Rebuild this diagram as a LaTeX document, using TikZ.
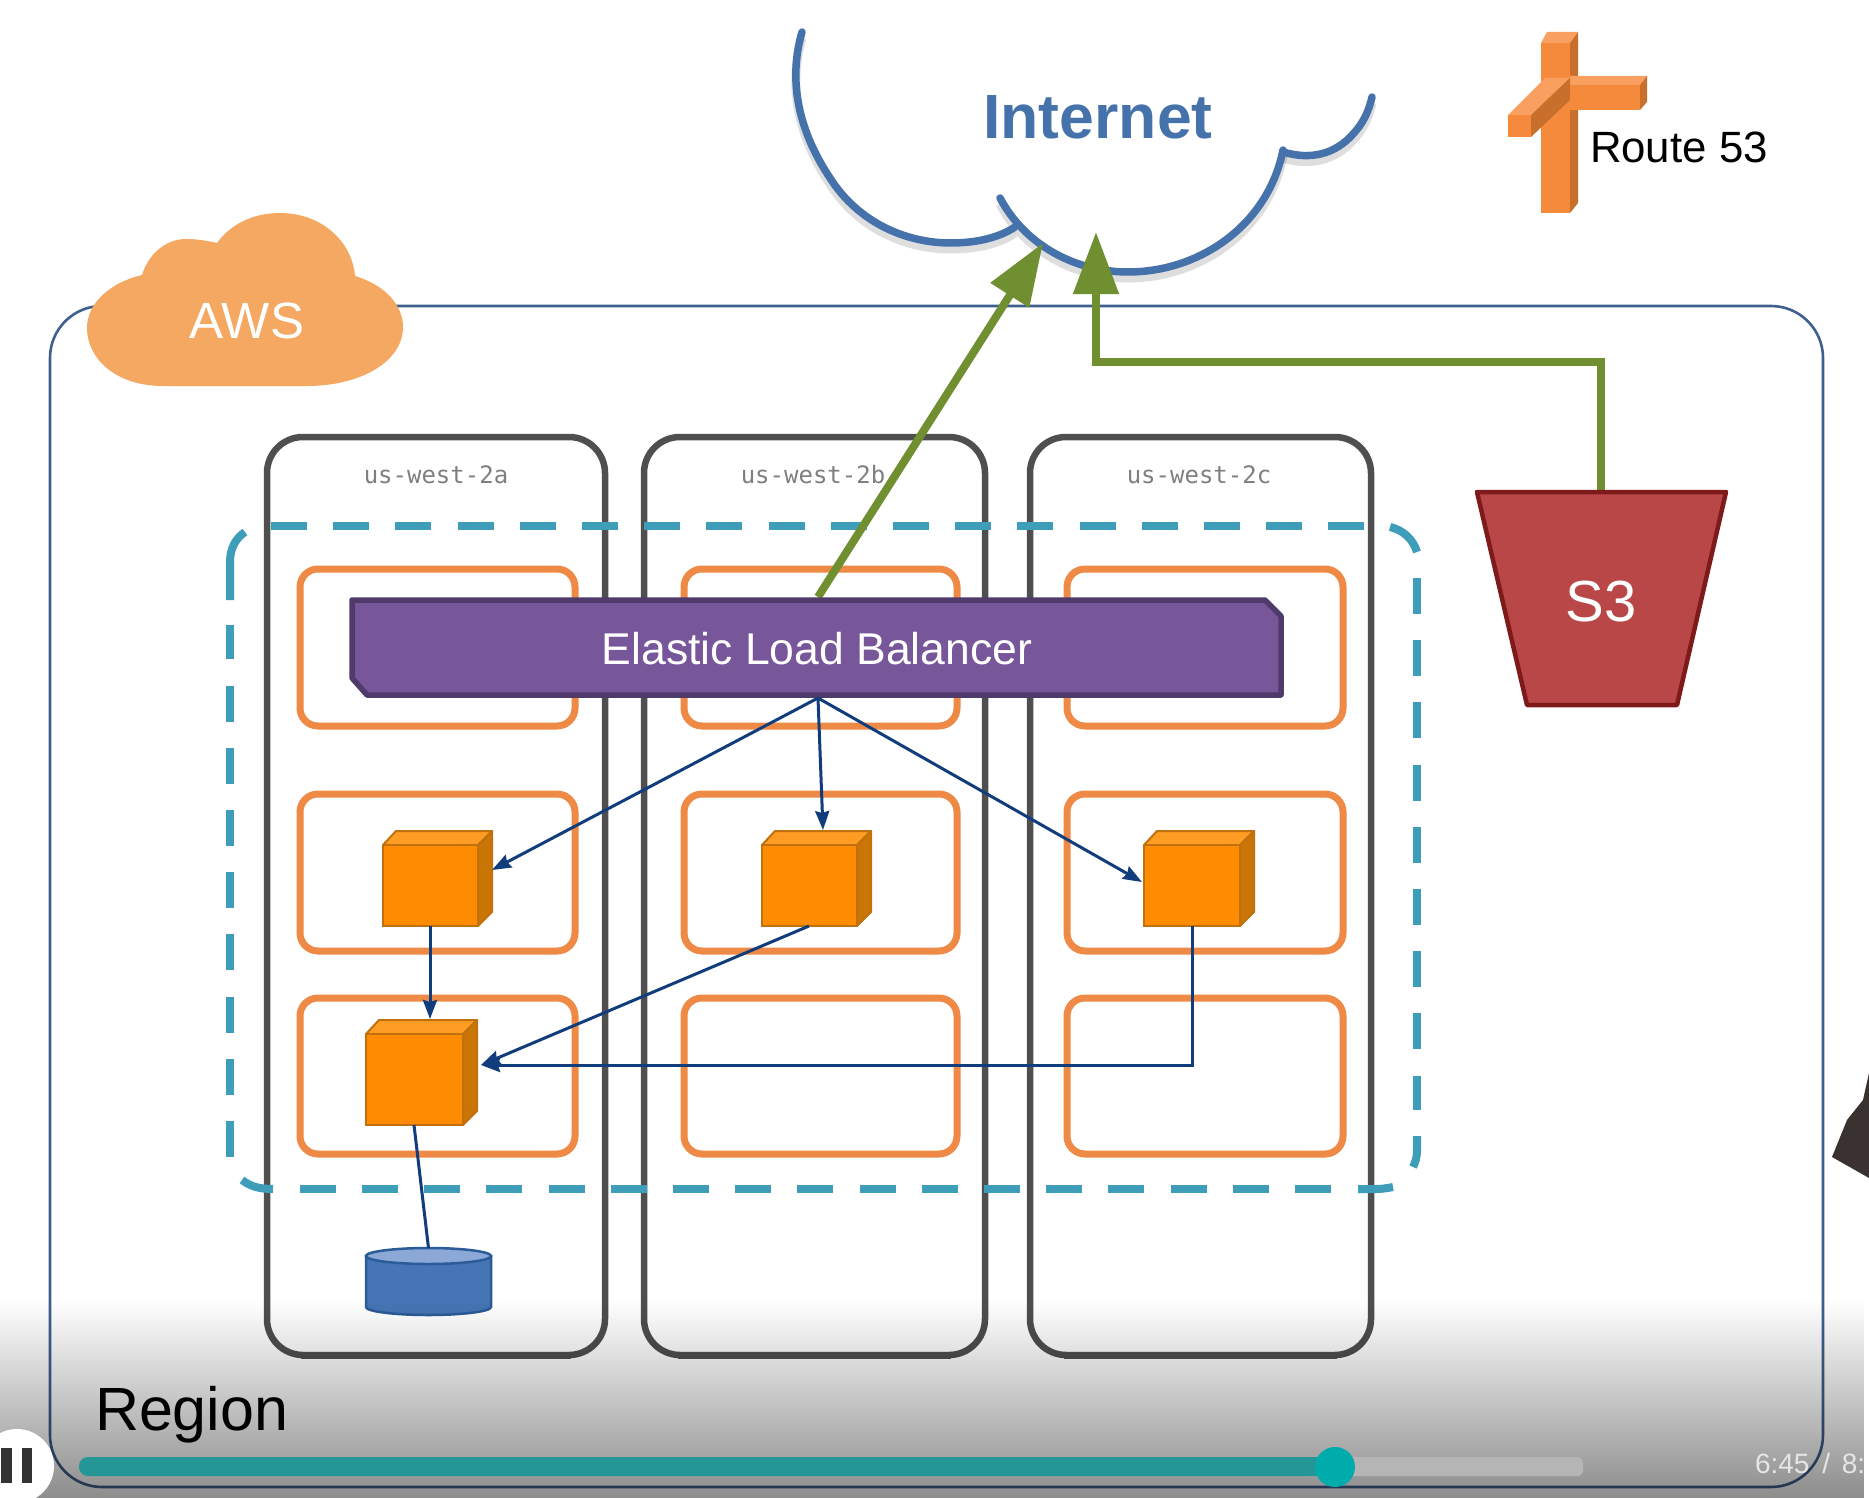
\documentclass[tikz,border=0pt]{standalone}
\usepackage{fontspec}
\setmainfont{Liberation Sans}
\setmonofont{DejaVu Sans Mono}
\usetikzlibrary{arrows.meta,fadings}
\definecolor{regionc}{HTML}{3F5F8F}
\definecolor{azc}{HTML}{4F4F4F}
\definecolor{subc}{HTML}{EE8A45}
\definecolor{tealc}{HTML}{3E9DB8}
\definecolor{netc}{HTML}{4672AC}
\definecolor{grnc}{HTML}{6F8F30}
\definecolor{navyc}{HTML}{123D7C}
\definecolor{cubef}{HTML}{FF8C00}
\definecolor{cubet}{HTML}{FF9C24}
\definecolor{cubes}{HTML}{C97606}
\definecolor{cubel}{HTML}{C0700C}
\definecolor{awsc}{HTML}{F4A862}
\definecolor{elbf}{HTML}{77569A}
\definecolor{elbl}{HTML}{4F3A6C}
\definecolor{s3f}{HTML}{B94747}
\definecolor{s3l}{HTML}{7F1A1A}
\definecolor{r53f}{HTML}{F58A3C}
\definecolor{r53t}{HTML}{F9A060}
\definecolor{r53s}{HTML}{C86F2C}
\definecolor{dbf}{HTML}{4675B5}
\definecolor{dbt}{HTML}{8BA8D6}
\definecolor{dbl}{HTML}{2B5C99}
\definecolor{azt}{HTML}{7F7F7F}
\definecolor{playc}{HTML}{259696}
\definecolor{knobc}{HTML}{00ABAB}
\definecolor{restc}{HTML}{B5B5B5}
\definecolor{pausec}{HTML}{333333}
\definecolor{timec}{HTML}{E5E5E5}
\definecolor{blobc}{HTML}{3A3230}
\tikzfading[name=vidfade,top color=transparent!100,bottom color=transparent!55]
\tikzset{
  x=1pt,y=-1pt,
  txt/.style={inner sep=0pt,outer sep=0pt,anchor=base},
  txtw/.style={inner sep=0pt,outer sep=0pt,anchor=base west},
  regionbox/.style={draw=regionc,line width=2.6pt,rounded corners=52pt},
  azbox/.style={draw=azc,line width=6.5pt,rounded corners=36pt},
  subbox/.style={draw=subc,line width=7pt,rounded corners=18pt},
  tealdash/.style={draw=tealc,line width=8pt,dash pattern=on 36pt off 26.2pt},
  tealarc/.style={draw=tealc,line width=8pt},
  netline/.style={draw=netc,line width=7.5pt,line cap=round},
  netshadow/.style={draw=black,opacity=.13,line width=9pt},
  grnarrow/.style={draw=grnc,line width=8pt,-{Triangle[length=62pt,width=44pt]}},
  flow/.style={draw=navyc,line width=3pt,-{Stealth[length=19pt,width=14pt,inset=2pt]}},
  link/.style={draw=navyc,line width=3pt},
  azlabel/.style={txt,text=azt,font=\ttfamily\fontsize{24}{24}\selectfont},
  ptnode/.style={inner sep=0pt,outer sep=0pt},
  cubeface/.style={draw=cubel,line width=2pt,line join=round}
}
\newcommand{\ecube}[5]{%
  \fill[cubet,cubeface] (#2,#3) -- ({#2+13},{#3-14}) -- ({#4+14},{#3-14}) -- (#4,#3) -- cycle;
  \fill[cubes,cubeface] (#4,#3) -- ({#4+14},{#3-14}) -- ({#4+14},{#5-14}) -- (#4,#5) -- cycle;
  \node[ptnode,fill=cubef,draw=cubel,line width=2pt,minimum width={(#4-#2)*1pt},minimum height={(#5-#3)*1pt},anchor=north west] (#1) at (#2,#3) {};
}
\newcommand{\netcurves}[1]{%
  \draw[#1] (802,32) .. controls (788,80) and (798,130) .. (830,178) .. controls (858,222) and (905,243) .. (951,243) .. controls (978,243) and (1000,237) .. (1015,227);
  \draw[#1] (1000,198) .. controls (1025,245) and (1075,272) .. (1128,272) .. controls (1200,272) and (1268,225) .. (1283,150);
  \draw[#1] (1283,152) .. controls (1310,160) and (1335,155) .. (1354,133) .. controls (1364,122) and (1369,110) .. (1372,97);
}
\begin{document}
\begin{tikzpicture}
\useasboundingbox (0,0) rectangle (1869,1498);
\fill[white] (0,0) rectangle (1869,1498);

% person at the right edge of the video frame
\fill[blobc] (1869,1073) -- (1863,1100) -- (1847,1120) -- (1832,1157) -- (1869,1178) -- cycle;

% region
\draw[regionbox] (50,306) rectangle (1823,1487);
\node[txtw,font=\fontsize{61}{61}\selectfont] (region) at (95,1430) {Region};

% AWS cloud
\fill[awsc] (142,275) .. controls (148,255) and (165,239) .. (186,239) .. controls (198,239) and (208,241) .. (217,243) .. controls (230,225) and (252,213) .. (280,213) .. controls (320,213) and (352,240) .. (355,276) .. controls (385,285) and (403,305) .. (403,327) .. controls (403,362) and (360,386) .. (307,386) -- (163,386) .. controls (115,386) and (87,358) .. (87,328) .. controls (87,302) and (112,282) .. (142,275) -- cycle;
\node[txt,text=white,font=\fontsize{51}{51}\selectfont] (aws) at (247,338) {AWS};

% Internet cloud
\begin{scope}[yshift=-6pt]\netcurves{netshadow}\end{scope}
\netcurves{netline}
\node[txt,text=netc,font=\bfseries\fontsize{62.5}{62.5}\selectfont] (internet) at (1098,139) {Internet};

% Route 53
\fill[r53f] (1541,43) rectangle (1570,213);
\fill[r53t] (1541,43) -- (1547,32) -- (1578,32) -- (1570,43) -- cycle;
\fill[r53s] (1570,43) -- (1578,32) -- (1578,203) -- (1570,213) -- cycle;
\fill[r53f] (1570,85) rectangle (1640,110);
\fill[r53t] (1570,76) -- (1647,76) -- (1640,85) -- (1570,85) -- cycle;
\fill[r53s] (1640,85) -- (1647,76) -- (1647,102) -- (1640,110) -- cycle;
\fill[r53f] (1508,115) rectangle (1531,137);
\fill[r53t] (1508,115) -- (1545,78) -- (1570,78) -- (1531,115) -- cycle;
\fill[r53s] (1531,115) -- (1570,78) -- (1570,100) -- (1531,137) -- cycle;
\node[txtw,font=\fontsize{43.8}{43.8}\selectfont] (r53) at (1590,163) {Route 53};

% availability zones
\draw[azbox] (267,437) rectangle (605,1355);
\draw[azbox] (644,437) rectangle (985,1355);
\draw[azbox] (1030,437) rectangle (1371,1355);
\draw[azc,line width=3.5pt] (301,1357) -- (571,1357) (678,1357) -- (951,1357) (1064,1357) -- (1337,1357);
\node[azlabel] (lza) at (436,483) {us-west-2a};
\node[azlabel] (lzb) at (813,483) {us-west-2b};
\node[azlabel] (lzc) at (1199,483) {us-west-2c};

% subnets
\foreach \xa/\xb in {300/575,684/957,1067/1343}{
  \draw[subbox] (\xa,569) rectangle (\xb,726);
  \draw[subbox] (\xa,794) rectangle (\xb,951);
  \draw[subbox] (\xa,998) rectangle (\xb,1154);
}

% dashed group
\draw[tealdash] (271,526) -- (1366,526);
\draw[tealarc] (1390,527) .. controls (1403,530) and (1413,539) .. (1417,552);
\draw[tealdash] (1417,578) -- (1417,1110);
\draw[tealarc] (1417,1136) -- (1417,1150) .. controls (1417,1158) and (1415,1163) .. (1413,1167);
\draw[tealarc] (1393,1187) .. controls (1388,1188) and (1383,1189) .. (1375,1189) -- (1358,1189);
\draw[tealdash] (1331,1189) -- (300,1189);
\draw[tealarc] (273,1189) .. controls (258,1189) and (250,1186) .. (242,1180);
\draw[tealdash] (230,1157) -- (230,625);
\draw[tealarc] (230,600) -- (230,562) .. controls (230,548) and (236,538) .. (245,532);

% ports
\coordinate (elbtop) at (818,597);
\coordinate (elbbot) at (818,698);
\coordinate (neta) at (1043,243);
\coordinate (netb) at (1096,232);
\coordinate (s3top) at (1601,491);
\coordinate (bend) at (1096,362);
\coordinate (bendb) at (1601,362);

% green connectors
\draw[grnarrow] (elbtop) -- (neta);
\draw[grnarrow] (s3top) -- (bendb) -- (bend) -- (netb);

% load balancer
\fill[elbf,draw=elbl,line width=5.5pt,line join=round] (352,600) -- (1265,600) -- (1281,616) -- (1281,695) -- (367,695) -- (352,678) -- cycle;
\node[txt,text=white,font=\fontsize{44.5}{44.5}\selectfont] (elb) at (817,664) {Elastic Load Balancer};

% S3
\fill[s3f,draw=s3l,line width=4.5pt,line join=round] (1477,492) -- (1726,492) -- (1677,705) -- (1527,705) -- cycle;
\node[txt,text=white,font=\fontsize{58}{58}\selectfont] (s3) at (1601,621) {S3};

% instances
\ecube{cubea}{383}{845}{478}{926}
\ecube{cubeb}{762}{845}{857}{926}
\ecube{cubec}{1144}{845}{1240}{926}
\ecube{cubed}{366}{1034}{463}{1125}

% database
\fill[dbf,draw=dbl,line width=2.5pt] (366,1256) -- (366,1307) arc[start angle=180,end angle=360,x radius=62.5,y radius=-8] -- (491,1256) -- cycle;
\fill[dbt,draw=dbl,line width=2.5pt] (428.5,1256) ellipse[x radius=62.5,y radius=8];
\coordinate (dbtop) at (428.5,1248);

% navy connectors
\coordinate (ain) at (492,870);
\coordinate (bin) at (823,830);
\coordinate (cin) at (1142,882);
\coordinate (aout) at (430,926);
\coordinate (dtop) at (430,1019);
\coordinate (bout) at (809,926);
\coordinate (din) at (481,1065);
\coordinate (cout) at (1192,926);
\coordinate (cbend) at (1192,1065);
\coordinate (dout) at (414,1125);
\draw[flow] (elbbot) -- (ain);
\draw[flow] (elbbot) -- (bin);
\draw[flow] (elbbot) -- (cin);
\draw[flow] (aout) -- (dtop);
\draw[flow] (bout) -- (din);
\draw[flow] (cout) -- (cbend) -- (din);
\draw[link] (dout) -- (dbtop);

% video player overlay
\fill[black,path fading=vidfade] (0,1300) rectangle (1869,1498);
\fill[restc,rounded corners=6pt] (1300,1457) rectangle (1583,1476);
\fill[playc,rounded corners=9pt] (79,1457) rectangle (1335,1476);
\fill[knobc] (1335,1467) circle[radius=20];
\fill[white] (17,1466) circle[radius=37];
\fill[pausec] (1,1448) rectangle (12,1483);
\fill[pausec] (22,1448) rectangle (32,1483);
\node[txtw,text=timec,font=\fontsize{28}{28}\selectfont] (time) at (1755,1473) {6:45 \kern5pt/ \kern4pt8:};
\end{tikzpicture}
\end{document}
